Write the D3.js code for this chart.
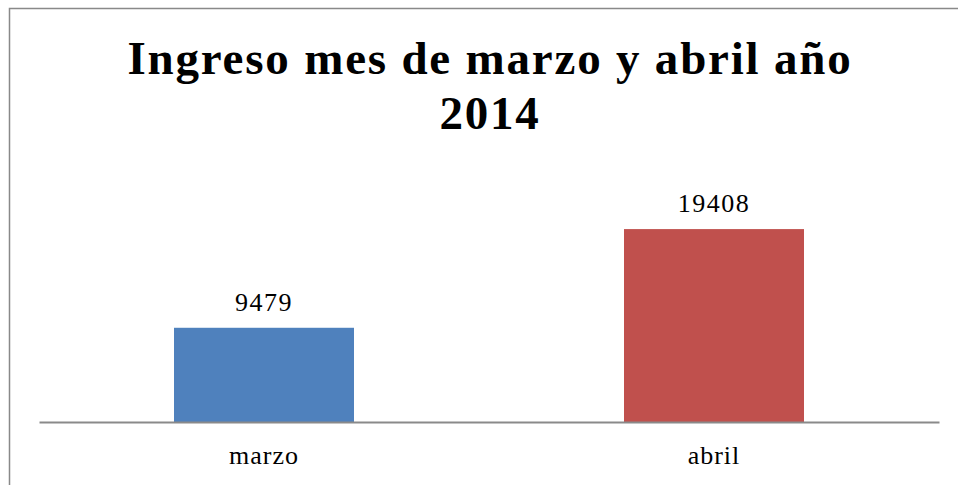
<!DOCTYPE html>
<html>
<head>
<meta charset="utf-8">
<script src="https://cdn.jsdelivr.net/npm/d3@7"></script>
<style>
  body { margin: 0; background: #fff; }
  svg { display: block; }
</style>
</head>
<body>
<div id="chart"></div>
<script>
const titleLines = ["Ingreso mes de marzo y abril año", "2014"];
const months = ["marzo", "abril"];
const values = [9479, 19408];
const colors = ["#4F81BD", "#C0504D"];

const width = 958, height = 485;
const baseY = 422;
const serif = "'Liberation Serif', 'DejaVu Serif', serif";

const svg = d3.select("#chart")
  .append("svg")
  .attr("width", width)
  .attr("height", height);

// chart border (runs off the right and bottom edge)
svg.append("rect")
  .attr("x", 9.5)
  .attr("y", 8.5)
  .attr("width", 1000)
  .attr("height", 600)
  .attr("fill", "none")
  .attr("stroke", "#898989")
  .attr("stroke-width", 1.5);

// title
const title = svg.append("text")
  .attr("text-anchor", "middle")
  .style("font-family", serif)
  .style("font-weight", "bold")
  .style("font-size", "47px")
  .style("letter-spacing", "1.8px")
  .attr("fill", "#000");

title.selectAll("tspan")
  .data(titleLines)
  .join("tspan")
  .attr("x", 490)
  .attr("y", (d, i) => 74 + i * 55)
  .text(d => d);

// scales
const xScale = d3.scaleBand()
  .domain(months)
  .range([39, 939])
  .paddingInner(0.6)
  .paddingOuter(0.3);

const yScale = d3.scaleLinear()
  .domain([0, 25000])
  .range([baseY, 173.5]);

// bars
svg.selectAll(".bar")
  .data(values)
  .join("rect")
  .attr("class", "bar")
  .attr("x", (d, i) => xScale(months[i]))
  .attr("y", d => yScale(d))
  .attr("width", xScale.bandwidth())
  .attr("height", d => yScale(0) - yScale(d))
  .attr("fill", (d, i) => colors[i]);

// value labels
svg.selectAll(".val")
  .data(values)
  .join("text")
  .attr("class", "val")
  .attr("x", (d, i) => xScale(months[i]) + xScale.bandwidth() / 2)
  .attr("y", d => yScale(d) - 17)
  .attr("text-anchor", "middle")
  .style("font-family", serif)
  .style("font-size", "26px")
  .style("letter-spacing", "1.5px")
  .attr("fill", "#000")
  .text(d => d);

// x axis
const xAxis = d3.axisBottom(xScale).tickSize(0).tickPadding(24);
const axisG = svg.append("g")
  .attr("transform", `translate(0, ${baseY})`)
  .call(xAxis);

axisG.select(".domain")
  .attr("stroke", "#8a8a8a")
  .attr("stroke-width", 2);

axisG.selectAll("text")
  .style("font-family", serif)
  .style("font-size", "26px")
  .style("letter-spacing", "1px")
  .attr("fill", "#000");
</script>
</body>
</html>
